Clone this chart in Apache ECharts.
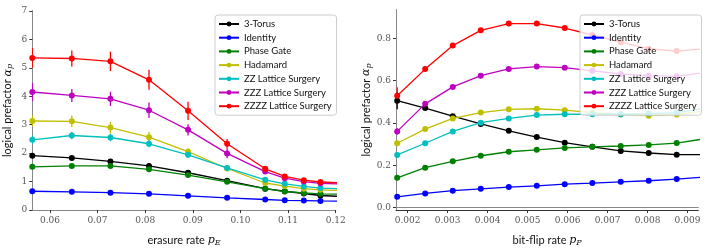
<!DOCTYPE html>
<html><head><meta charset="utf-8">
<script src="https://cdn.jsdelivr.net/npm/echarts@6/dist/echarts.min.js"></script>
<style>html,body{margin:0;padding:0;background:#fff}#c{width:706px;height:252px}</style>
</head><body><div id="c"></div>
<script>
// ---------- data ----------
const names = ['3-Torus','Identity','Phase Gate','Hadamard','ZZ Lattice Surgery','ZZZ Lattice Surgery','ZZZZ Lattice Surgery'];
const colors = ['#000000','#0000ff','#008000','#bfbf00','#00bfbf','#bf00bf','#ff0000'];

// left panel: erasure rate
const pE = [0.0563,0.0646,0.0727,0.0808,0.0890,0.0972,0.1052,0.1093,0.1133,0.1168,0.1208];
const torusE    = [1.91,1.83,1.71,1.55,1.31,1.03,0.75,0.66,0.58,0.51,0.48];
const identityE = [0.66,0.64,0.61,0.57,0.50,0.43,0.37,0.34,0.33,0.32,0.31];
const phaseE    = [1.52,1.55,1.55,1.43,1.23,0.99,0.75,0.65,0.60,0.57,0.555];
const hadamardE = [3.13,3.12,2.90,2.56,2.05,1.46,0.95,0.84,0.75,0.71,0.69];
const zzE       = [2.47,2.62,2.55,2.33,1.94,1.48,1.06,0.92,0.83,0.77,0.75];
const zzzE      = [4.15,4.03,3.91,3.51,2.82,1.99,1.35,1.12,1.00,0.94,0.915];
const zzzzE     = [5.35,5.33,5.23,4.58,3.49,2.33,1.45,1.18,1.05,0.985,0.955];
const errTorusE    = [0.06,0.05,0.05,0.05,0.04,0.03,0.02,0.02,0.02,0.02,0.02];
const errIdentityE = [0.03,0.03,0.03,0.02,0.02,0.02,0.01,0.01,0.01,0.01,0.01];
const errPhaseE    = [0.05,0.05,0.05,0.04,0.04,0.03,0.02,0.02,0.02,0.02,0.02];
const errHadamardE = [0.2,0.2,0.2,0.18,0.12,0.06,0.04,0.03,0.03,0.03,0.03];
const errZzE       = [0.15,0.13,0.13,0.12,0.10,0.05,0.04,0.03,0.03,0.03,0.03];
const errZzzE      = [0.32,0.23,0.25,0.27,0.20,0.17,0.08,0.05,0.04,0.04,0.04];
const errZzzzE     = [0.35,0.28,0.34,0.35,0.32,0.17,0.08,0.06,0.05,0.05,0.05];
const xTicksE = [0.06,0.07,0.08,0.09,0.10,0.11,0.12];
const yTicksE = [0,1,2,3,4,5,6,7];

// right panel: bit-flip rate
const pP = [0.00174,0.00244,0.00313,0.00383,0.00453,0.00523,0.00593,0.00662,0.00733,0.00803,0.00873,0.00943];
const torusP    = [0.505,0.470,0.432,0.395,0.363,0.333,0.307,0.287,0.268,0.258,0.250,0.250];
const identityP = [0.051,0.067,0.080,0.089,0.097,0.103,0.111,0.116,0.122,0.127,0.135,0.145];
const phaseP    = [0.141,0.189,0.219,0.245,0.264,0.273,0.282,0.287,0.291,0.296,0.305,0.325];
const hadamardP = [0.304,0.371,0.421,0.449,0.464,0.467,0.460,0.449,0.440,0.434,0.440,0.456];
const zzP       = [0.249,0.304,0.360,0.401,0.421,0.437,0.441,0.441,0.441,0.444,0.449,0.468];
const zzzP      = [0.360,0.490,0.570,0.623,0.655,0.666,0.661,0.646,0.631,0.623,0.620,0.638];
const zzzzP     = [0.528,0.654,0.765,0.837,0.869,0.869,0.848,0.815,0.781,0.750,0.739,0.750];
const errTorusP    = [0.04,0.01,0.01,0.005,0.005,0.005,0.005,0.005,0.005,0.005,0.005,0.005];
const errIdentityP = [0.005,0.003,0.003,0.003,0.003,0.003,0.003,0.003,0.003,0.003,0.003,0.003];
const errPhaseP    = [0.008,0.005,0.005,0.005,0.005,0.005,0.005,0.005,0.005,0.005,0.005,0.005];
const errHadamardP = [0.01,0.008,0.008,0.006,0.006,0.006,0.006,0.006,0.006,0.006,0.006,0.006];
const errZzP       = [0.012,0.008,0.008,0.006,0.006,0.006,0.006,0.006,0.006,0.006,0.006,0.006];
const errZzzP      = [0.015,0.01,0.008,0.008,0.008,0.008,0.008,0.008,0.008,0.008,0.008,0.008];
const errZzzzP     = [0.04,0.01,0.01,0.01,0.01,0.01,0.01,0.01,0.01,0.01,0.01,0.01];
const xTicksP = [0.002,0.003,0.004,0.005,0.006,0.007,0.008,0.009];
const yTicksP = [0.0,0.2,0.4,0.6,0.8];

const seriesE = [torusE,identityE,phaseE,hadamardE,zzE,zzzE,zzzzE];
const errsE = [errTorusE,errIdentityE,errPhaseE,errHadamardE,errZzE,errZzzE,errZzzzE];
const seriesP = [torusP,identityP,phaseP,hadamardP,zzP,zzzP,zzzzP];
const errsP = [errTorusP,errIdentityP,errPhaseP,errHadamardP,errZzP,errZzzP,errZzzzP];

// ---------- chart ----------
const chart = echarts.init(document.getElementById('c'), null, {renderer:'canvas'});
const tickFont = {fontFamily:'DejaVu Serif', fontSize:9, color:'#555'};
const axisLineStyle = {color:'#333', width:1};
const nameRich = {
  a:{fontFamily:'Lato', fontSize:11, color:'#111'},
  i:{fontFamily:'DejaVu Serif', fontStyle:'italic', fontSize:11, color:'#111'},
  s:{fontFamily:'DejaVu Serif', fontStyle:'italic', fontSize:8, color:'#111', padding:[5,0,0,0]}
};
function xAxis(gi, min, max, ticks, digits, label){
  return {type:'value', gridIndex:gi, min, max,
    name:label, nameLocation:'middle', nameGap:24,
    nameTextStyle:{rich:nameRich},
    axisLine:{show:true, onZero:false, lineStyle:axisLineStyle},
    axisTick:{show:true, customValues:ticks, length:3, lineStyle:axisLineStyle},
    axisLabel:{customValues:ticks, formatter:v=>v.toFixed(digits), margin:6, ...tickFont},
    splitLine:{show:false}};
}
function yAxis(gi, min, max, ticks, digits, gap){
  return {type:'value', gridIndex:gi, min, max,
    name:'{a|logical prefactor }{i|α}{s|p}', nameLocation:'middle', nameGap:gap, nameRotate:90,
    nameTextStyle:{rich:nameRich},
    axisLine:{show:true, onZero:false, lineStyle:axisLineStyle},
    axisTick:{show:true, customValues:ticks, length:3, lineStyle:axisLineStyle},
    axisLabel:{customValues:ticks, formatter:v=>v.toFixed(digits), margin:5, ...tickFont},
    splitLine:{show:false}};
}
// extra axes to draw the top/right frame
function frameX(gi){return {type:'value', gridIndex:gi, position:'top', axisLine:{show:true,lineStyle:{color:'#888'}}, axisTick:{show:false}, axisLabel:{show:false}, splitLine:{show:false}};}
function frameY(gi){return {type:'value', gridIndex:gi, position:'right', axisLine:{show:true,lineStyle:{color:'#888'}}, axisTick:{show:false}, axisLabel:{show:false}, splitLine:{show:false}};}

const series = [];
function addPanel(xs, ys, errs, xi, yi){
  ys.forEach((arr, k)=>{
    series.push({type:'line', name:names[k], xAxisIndex:xi, yAxisIndex:yi,
      data: xs.map((x,i)=>[x, arr[i]]),
      symbol:'circle', symbolSize:6, showSymbol:true,
      itemStyle:{color:colors[k]}, lineStyle:{color:colors[k], width:1.3},
      clip:true, z:2+k*0.01, animation:false});
    series.push({type:'custom', xAxisIndex:xi, yAxisIndex:yi, clip:true, animation:false, silent:true,
      data: xs.map((x,i)=>[x, arr[i], errs[k][i]]),
      renderItem:(params, api)=>{
        const x = api.value(0), y = api.value(1), e = api.value(2);
        const p1 = api.coord([x, y-e]), p2 = api.coord([x, y+e]);
        return {type:'line', shape:{x1:p1[0], y1:p1[1], x2:p2[0], y2:p2[1]},
          style:{stroke:colors[k], lineWidth:1.3}};
      }, z:2});
  });
}
addPanel(pE, seriesE, errsE, 0, 0);
addPanel(pP, seriesP, errsP, 1, 1);

const legendBase = {orient:'vertical', data:names, itemWidth:20, itemHeight:6, itemGap:3.7,
  textStyle:{fontFamily:'Lato', fontSize:9.5, color:'#111'},
  backgroundColor:'rgba(255,255,255,0.8)', borderColor:'#cccccc', borderWidth:1, borderRadius:3,
  padding:[4,5,4,3], selectedMode:false, z:10};

chart.setOption({
  animation:false,
  grid:[
    {left:32.3, right:370.3, top:11, bottom:36},
    {left:396, right:7.7, top:10, bottom:36}
  ],
  xAxis:[xAxis(0,0.0563,0.12,xTicksE,2,'{a|erasure rate }{i|p}{s|E}'),
         xAxis(1,0.00171,0.00927,xTicksP,3,'{a|bit-flip rate }{i|p}{s|P}'),
         frameX(0), frameX(1)],
  yAxis:[yAxis(0,0,7,yTicksE,0,18), yAxis(1,-0.011,0.933,yTicksP,1,22), frameY(0), frameY(1)],
  legend:[
    {...legendBase, left:215, top:15},
    {...legendBase, left:580, top:15}
  ],
  series
});
</script></body></html>
